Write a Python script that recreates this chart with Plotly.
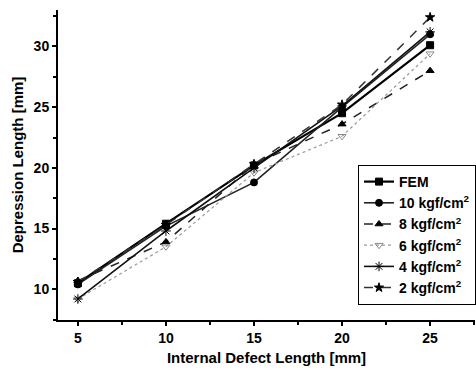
import plotly.graph_objects as go

x_vals = [5, 10, 15, 20, 25]
series_names = ["FEM", "10 kgf/cm<sup>2</sup>", "8 kgf/cm<sup>2</sup>", "6 kgf/cm<sup>2</sup>",
                "4 kgf/cm<sup>2</sup>", "2 kgf/cm<sup>2</sup>"]
fem = [10.5, 15.4, 20.2, 24.5, 30.1]
kgf10 = [10.4, 15.2, 18.8, 25.0, 31.0]
kgf8 = [10.7, 13.9, 20.3, 23.6, 28.0]
kgf6 = [9.2, 13.5, 19.6, 22.6, 29.4]
kgf4 = [9.2, 14.8, 20.0, 25.1, 31.2]
kgf2 = [10.6, 15.3, 20.3, 25.2, 32.4]

series = [fem, kgf10, kgf8, kgf6, kgf4, kgf2]
styles = [
    dict(color="#000000", width=2.2, dash="solid", symbol="square", mcolor="#000000", size=7),
    dict(color="#222222", width=1.6, dash="solid", symbol="circle", mcolor="#000000", size=7),
    dict(color="#222222", width=1.5, dash="dash", symbol="triangle-up", mcolor="#000000", size=7),
    dict(color="#999999", width=1.2, dash="dot", symbol="triangle-down-open", mcolor="#888888", size=7),
    dict(color="#111111", width=1.6, dash="solid", symbol="asterisk-open", mcolor="#000000", size=8),
    dict(color="#333333", width=1.5, dash="dash", symbol="star", mcolor="#000000", size=7),
]

fig = go.Figure()
for i, (name, ys, st) in enumerate(zip(series_names, series, styles)):
    fig.add_trace(go.Scatter(
        x=x_vals, y=ys, name=name, mode="lines+markers", legendgroup=f"g{i}",
        line=dict(color=st["color"], width=st["width"], dash=st["dash"]),
        marker=dict(symbol=st["symbol"], color=st["mcolor"], size=st["size"],
                    line=dict(color=st["mcolor"], width=1)),
    ))

font_family = "Liberation Sans, Arial, sans-serif"
fig.update_layout(
    width=476, height=375,
    margin=dict(l=58, r=0, t=10, b=55),
    paper_bgcolor="white", plot_bgcolor="white",
    font=dict(family=font_family, color="black"),
    showlegend=True,
    legend=dict(
        x=0.72, y=0.5, xanchor="left", yanchor="top",
        bgcolor="white", bordercolor="black", borderwidth=1,
        font=dict(size=14, family=font_family, color="black", weight="bold"),
        tracegroupgap=0, itemwidth=30,
    ),
    xaxis=dict(
        range=[3.87, 27.55], tickvals=[5, 10, 15, 20, 25],
        showgrid=False, zeroline=False, automargin=False,
        showline=True, linecolor="black", linewidth=2,
        ticks="outside", ticklen=4, tickwidth=1.5, tickcolor="black",
        minor=dict(dtick=2.5, tick0=0, ticks="outside", ticklen=3, tickcolor="black"),
        tickfont=dict(size=14, weight="bold"),
        title=dict(text="Internal Defect Length [mm]", font=dict(size=15, weight="bold"), standoff=8),
    ),
    yaxis=dict(
        range=[7.47, 33.0], tickvals=[10, 15, 20, 25, 30],
        showgrid=False, zeroline=False, automargin=False,
        showline=True, linecolor="black", linewidth=2,
        ticks="outside", ticklen=4, tickwidth=1.5, tickcolor="black",
        minor=dict(dtick=2.5, tick0=0, ticks="outside", ticklen=3, tickcolor="black"),
        tickfont=dict(size=14, weight="bold"),
        title=dict(text="Depression Length [mm]", font=dict(size=15, weight="bold"), standoff=6),
    ),
)

fig.write_html("out.html", config={"displayModeBar": False},
               post_script="document.body.style.margin='0';document.body.style.overflow='hidden';")
